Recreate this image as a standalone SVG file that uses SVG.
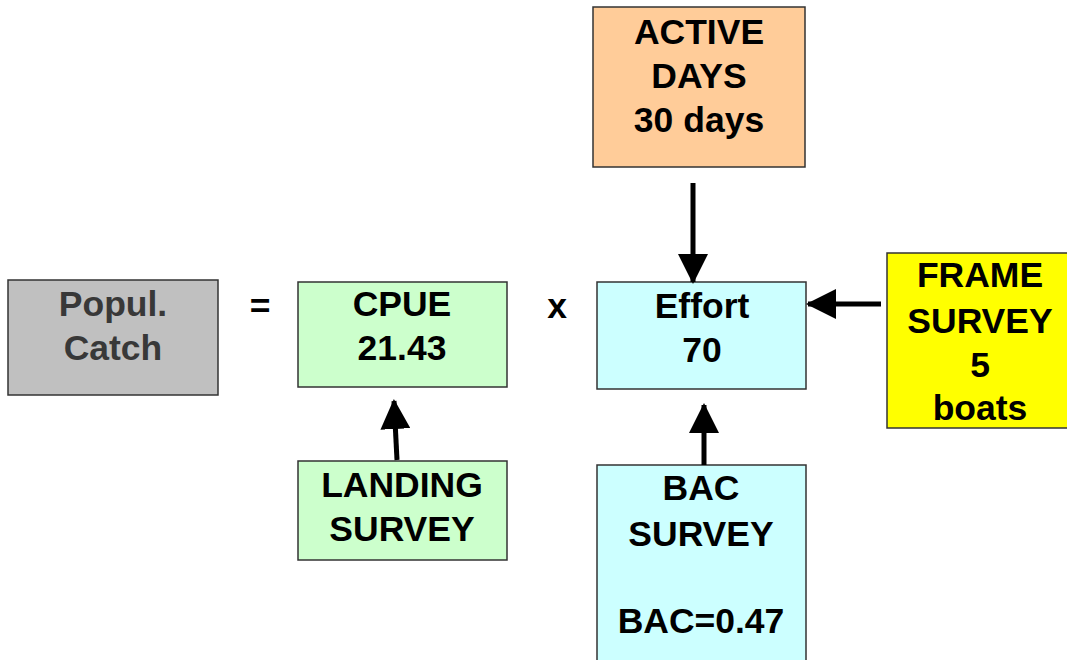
<svg xmlns="http://www.w3.org/2000/svg" width="1067" height="660" viewBox="0 0 1067 660">
<defs>
<style>
.box{stroke:#333;stroke-width:1.5}
.t{font-family:"Liberation Sans",Arial,sans-serif;font-weight:bold;font-size:35.5px;text-anchor:middle;fill:#000}
.g{fill:#383838}
.c{stroke:#000;stroke-width:5;fill:none}
</style>
<marker id="ah" markerWidth="6" markerHeight="6" refX="5.6" refY="3" orient="auto" markerUnits="strokeWidth" viewBox="0 0 6 6">
<path d="M0,0 L6,3 L0,6 z" fill="#000"/>
</marker>
</defs>
<rect width="1067" height="660" fill="#fff"/>
<g id="popul">
<rect class="box" x="8" y="280" width="210" height="115" fill="#c0c0c0"/>
<text class="t g" x="113" y="316">Popul.</text>
<text class="t g" x="113" y="360">Catch</text>
</g>
<g id="eq"><text class="t" x="260" y="318">=</text></g>
<g id="cpue">
<rect class="box" x="298" y="282" width="209" height="105" fill="#ccffcc"/>
<text class="t" x="402" y="316">CPUE</text>
<text class="t" x="402" y="360">21.43</text>
</g>
<g id="times"><text class="t" x="557" y="318">x</text></g>
<g id="effort">
<rect class="box" x="597" y="282" width="209" height="107" fill="#ccffff"/>
<text class="t" x="702" y="318">Effort</text>
<text class="t" x="702" y="362">70</text>
</g>
<g id="active">
<rect class="box" x="593" y="7" width="212" height="160" fill="#ffcc99"/>
<text class="t" x="699" y="44">ACTIVE</text>
<text class="t" x="699" y="88">DAYS</text>
<text class="t" x="699" y="132">30 days</text>
</g>
<g id="frame">
<rect class="box" x="887" y="253" width="182" height="175" fill="#ffff00"/>
<text class="t" x="980" y="287">FRAME</text>
<text class="t" x="980" y="333">SURVEY</text>
<text class="t" x="980" y="377">5</text>
<text class="t" x="980" y="420">boats</text>
</g>
<g id="landing">
<rect class="box" x="298" y="461" width="209" height="99" fill="#ccffcc"/>
<text class="t" x="402" y="497">LANDING</text>
<text class="t" x="402" y="541">SURVEY</text>
</g>
<g id="bac">
<rect class="box" x="597" y="465" width="209" height="200" fill="#ccffff"/>
<text class="t" x="701" y="500">BAC</text>
<text class="t" x="701" y="546">SURVEY</text>
<text class="t" x="701" y="633">BAC=0.47</text>
</g>
<g id="connectors">
<line class="c" x1="693" y1="183" x2="693" y2="282" marker-end="url(#ah)"/>
<line class="c" x1="881" y1="304" x2="808" y2="304" marker-end="url(#ah)"/>
<line class="c" x1="397" y1="460" x2="394" y2="401" marker-end="url(#ah)"/>
<line class="c" x1="704" y1="465" x2="704" y2="405" marker-end="url(#ah)"/>
</g>
</svg>
